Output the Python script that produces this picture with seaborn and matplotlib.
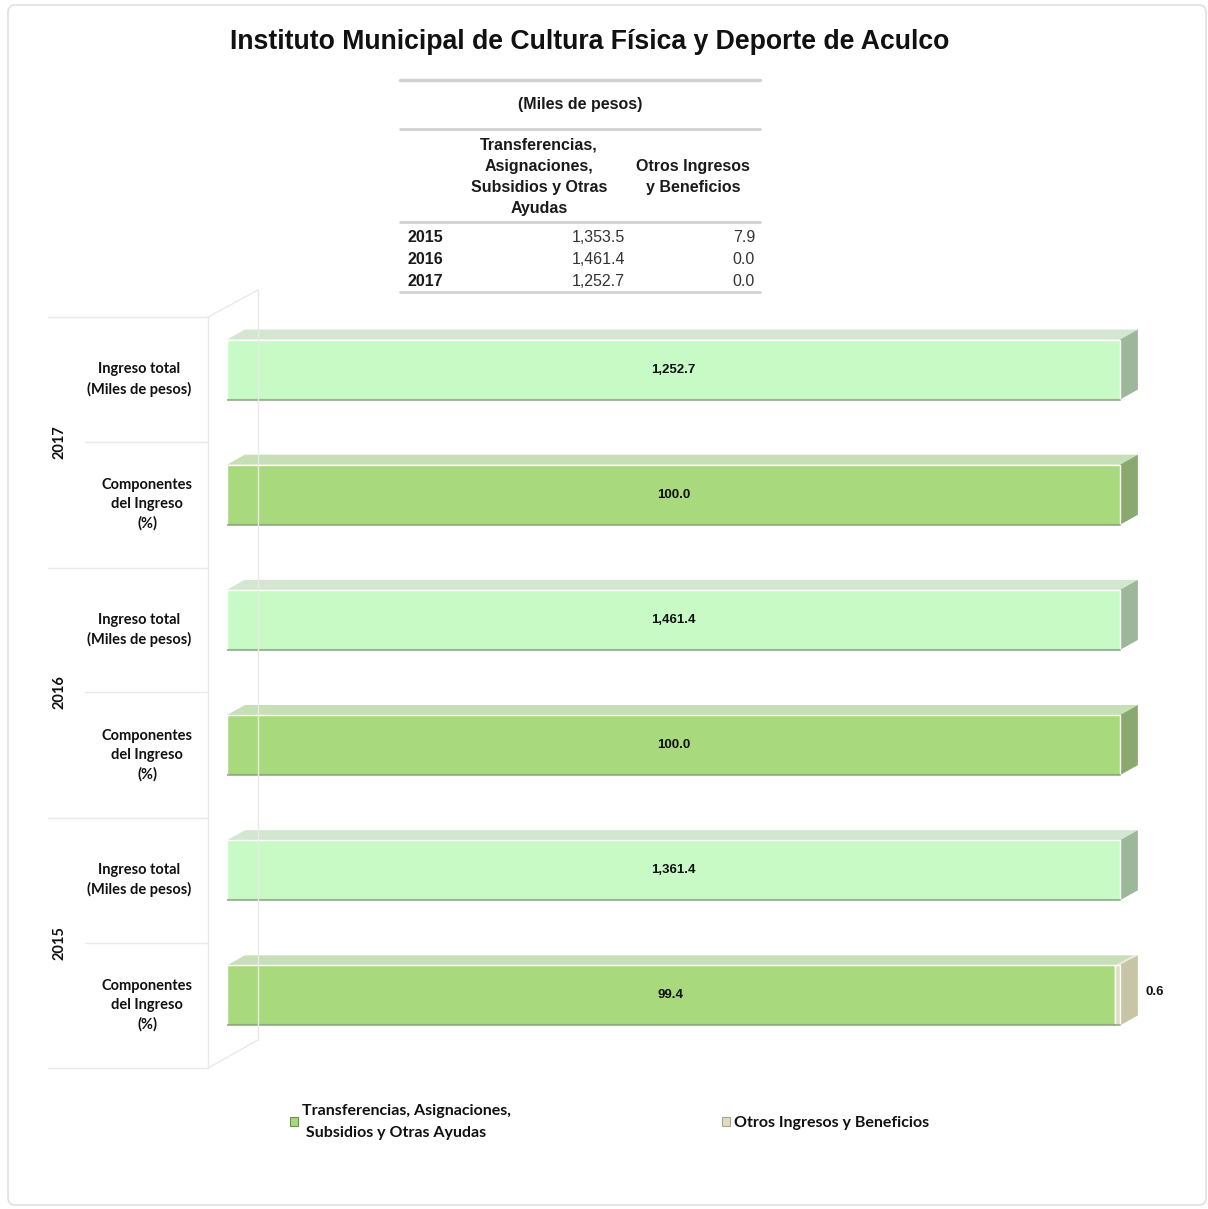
import pandas as pd
import matplotlib
matplotlib.use('Agg')
import matplotlib.pyplot as plt
from matplotlib.patches import Polygon, Patch, FancyBboxPatch
from matplotlib.lines import Line2D
from matplotlib.transforms import blended_transform_factory
import seaborn as sns

sns.set_style('white')
plt.rcParams['font.family'] = ['Liberation Sans', 'DejaVu Sans']

# ---------------------------------------------------------------
# datos
# ---------------------------------------------------------------
anios = ['2015', '2016', '2017']
transferencias = [1353.5, 1461.4, 1252.7]
otros = [7.9, 0.0, 0.0]
ingreso_total = [1361.4, 1461.4, 1252.7]
pct_transf = [99.4, 100.0, 100.0]
pct_otros = [0.6, 0.0, 0.0]

titulo = 'Instituto Municipal de Cultura Física y Deporte de Aculco'
serie_transf = 'Transferencias, Asignaciones,\n Subsidios y Otras Ayudas'
serie_otros = 'Otros Ingresos y Beneficios'

# colores (frente, arriba, lado)
c_total = ('#c8fac6', '#d3e6cf', '#9db79a')
c_transf = ('#a8d97c', '#c6dfb6', '#8aa96f')
c_otros = ('#e2ddc2', '#ecead8', '#c8c4a6')

# orden de filas de arriba hacia abajo
orden = []
for a in anios[::-1]:
    orden += [a + ' ingreso', a + ' comp']

df_ing = pd.DataFrame({
    'fila': [a + ' ingreso' for a in anios],
    'largo': [v / v * 100 for v in ingreso_total],
    'etiqueta': [f'{v:,.1f}' for v in ingreso_total],
})
df_comp = pd.DataFrame({
    'fila': [a + ' comp' for a in anios],
    'transf': pct_transf,
    'acum': [t + o for t, o in zip(pct_transf, pct_otros)],
    'otros': pct_otros,
})

# ---------------------------------------------------------------
# figura
# ---------------------------------------------------------------
fig = plt.figure(figsize=(12.08, 12.09), dpi=100)
W, H = 1208, 1209


def fx(px):
    return px / W


def fy(py):
    return 1 - py / H


ax = fig.add_axes([fx(227), fy(1058), fx(1160) - fx(227), fy(307) - fy(1058)])

n0 = len(ax.patches)
sns.barplot(data=df_ing, x='largo', y='fila', order=orden, orient='h', color=c_total[0],
            saturation=1, width=0.48, errorbar=None, ax=ax, zorder=3)
bars_ing = ax.patches[n0:]
n0 = len(ax.patches)
sns.barplot(data=df_comp, x='acum', y='fila', order=orden, orient='h', color=c_otros[0],
            saturation=1, width=0.48, errorbar=None, ax=ax, zorder=1)
bars_otros = ax.patches[n0:]
n0 = len(ax.patches)
sns.barplot(data=df_comp, x='transf', y='fila', order=orden, orient='h', color=c_transf[0],
            saturation=1, width=0.48, errorbar=None, ax=ax, zorder=3)
bars_transf = ax.patches[n0:]

ax.set_xlim(0, 933 / 893 * 100)
ax.set_ylim(5.5, -0.5)
ax.axis('off')

# efecto 3D
dx, dy = 2.0, -0.08


def caras(p, cols, z, x0=None):
    w = p.get_width()
    y = p.get_y()
    h = p.get_height()
    if x0 is None:
        x0 = p.get_x()
    x1 = p.get_x() + w
    if x1 - x0 <= 0:
        return
    top = Polygon([(x0, y), (x1, y), (x1 + dx, y + dy), (x0 + dx, y + dy)],
                  closed=True, facecolor=cols[1], edgecolor='none', zorder=z)
    side = Polygon([(x1, y), (x1 + dx, y + dy), (x1 + dx, y + h + dy), (x1, y + h)],
                   closed=True, facecolor=cols[2], edgecolor='none', zorder=z)
    ax.add_patch(top)
    ax.add_patch(side)
    # sombra inferior
    ax.plot([x0, x1], [y + h, y + h], color='#6f8a68', lw=1.5, alpha=0.6, zorder=z + 1.5)


for p in bars_ing:
    caras(p, c_total, 2)

# otros: el segmento visible va de transf a acum
comp_por_fila = dict(zip(df_comp['fila'], zip(df_comp['transf'], df_comp['otros'])))
comp_filas = [f for f in orden if f.endswith('comp')]
for p, f in zip(bars_otros, comp_filas):
    t, o = comp_por_fila[f]
    if o > 0:
        caras(p, c_otros, 3.5, x0=t)
        p.set_zorder(4)
        p.set_x(t)
        p.set_width(o)
for p, f in zip(bars_transf, comp_filas):
    caras(p, c_transf, 2)

# etiquetas de valores
lbl_font = dict(family=['Liberation Sans', 'DejaVu Sans'], fontsize=9.5,
                fontweight='bold', color='#111111', va='center', ha='center', zorder=10)
ing_por_fila = dict(zip(df_ing['fila'], df_ing['etiqueta']))
for p, f in zip(bars_ing, [f for f in orden if f.endswith('ingreso')]):
    ax.text(p.get_width() / 2, p.get_y() + p.get_height() / 2, ing_por_fila[f], **lbl_font)
for p, f in zip(bars_transf, comp_filas):
    t, o = comp_por_fila[f]
    ax.text(t / 2, p.get_y() + p.get_height() / 2, f'{t:.1f}', **lbl_font)
    if o > 0:
        d = dict(lbl_font)
        d['ha'] = 'left'
        ax.text(t + o + dx + 0.8, p.get_y() + p.get_height() / 2 - 0.03, f'{o:.1f}', **d)

# etiquetas de categoria (eje izquierdo)
trans = blended_transform_factory(fig.transFigure, ax.transData)
cat_font = dict(family=['Lato', 'DejaVu Sans'], fontsize=10.5, fontweight='bold',
                color='#111111', ha='center', va='center', linespacing=1.45)
off = 10 / 125.2
for i, f in enumerate(orden):
    if f.endswith('ingreso'):
        ax.text(fx(139), i + off, 'Ingreso total\n(Miles de pesos)', transform=trans, **cat_font)
    else:
        ax.text(fx(147), i + off, 'Componentes\ndel Ingreso\n(%)', transform=trans, **cat_font)
for k, a in enumerate(anios[::-1]):
    ax.text(fx(60), 2 * k + 0.5 + off, a, transform=trans, rotation=90,
            family=['Lato', 'DejaVu Sans'], fontsize=10.5, fontweight='bold',
            color='#111111', ha='center', va='center')

# lineas de la pared 3D
lc = '#e9e9e9'
for py in [317, 568, 818, 1068]:
    fig.add_artist(Line2D([fx(48), fx(208)], [fy(py), fy(py)], color=lc, lw=1))
for py in [442, 692, 943]:
    fig.add_artist(Line2D([fx(85), fx(208)], [fy(py), fy(py)], color=lc, lw=1))
fig.add_artist(Line2D([fx(208), fx(208)], [fy(317), fy(1068)], color=lc, lw=1))
fig.add_artist(Line2D([fx(258), fx(258)], [fy(290), fy(1040)], color=lc, lw=1))
fig.add_artist(Line2D([fx(208), fx(258)], [fy(317), fy(290)], color=lc, lw=1))
fig.add_artist(Line2D([fx(208), fx(258)], [fy(1068), fy(1040)], color=lc, lw=1))

# titulo
fig.text(fx(590), fy(42), titulo, ha='center', va='center', fontsize=19.2, fontweight='bold',
         color='#111111')

# tabla
tc = '#d2d2d2'
for py, lw in [(80, 2.5), (129, 2), (222, 2), (292, 2)]:
    fig.add_artist(Line2D([fx(400), fx(760)], [fy(py), fy(py)], color=tc, lw=lw))
fig.text(fx(580), fy(104), '(Miles de pesos)', ha='center', va='center', fontsize=11.5,
         fontweight='bold', color='#1a1a1a')
fig.text(fx(539), fy(177), 'Transferencias,\nAsignaciones,\nSubsidios y Otras\nAyudas',
         ha='center', va='center', fontsize=11.5, fontweight='bold', color='#1a1a1a',
         linespacing=1.5)
fig.text(fx(693), fy(177), 'Otros Ingresos\ny Beneficios', ha='center', va='center',
         fontsize=11.5, fontweight='bold', color='#1a1a1a', linespacing=1.5)
for py, a, t, o in zip([237, 259, 281], anios, transferencias, otros):
    fig.text(fx(407), fy(py), a, ha='left', va='center', fontsize=11.5, fontweight='bold',
             color='#1a1a1a')
    fig.text(fx(625), fy(py), f'{t:,.1f}', ha='right', va='center', fontsize=11.5,
             color='#333333')
    fig.text(fx(755), fy(py), f'{o:,.1f}', ha='right', va='center', fontsize=11.5,
             color='#333333')

# leyenda
handles = [Patch(facecolor=c_transf[0], edgecolor='#6f8f55', lw=0.8),
           Patch(facecolor=c_otros[0], edgecolor='#a9a58a', lw=0.8)]
leg = fig.legend(handles, [serie_transf, serie_otros], loc='upper left',
                 bbox_to_anchor=(fx(290), fy(1104)), ncol=2, frameon=False,
                 handlelength=0.5, handleheight=0.5, handletextpad=0.25,
                 columnspacing=13.2, borderpad=0, borderaxespad=0,
                 prop={'family': ['Lato', 'DejaVu Sans'], 'weight': 'bold', 'size': 11.5})
for t in leg.get_texts():
    t.set_color('#111111')
    t.set_linespacing(1.7)

# marco exterior
fig.add_artist(FancyBboxPatch((fx(8), fy(1205)), fx(1198), fy(5) - fy(1205),
                              boxstyle='round,pad=0,rounding_size=0.006',
                              transform=fig.transFigure, facecolor='none',
                              edgecolor='#e0e0e0', lw=1.2))

fig.savefig('out.png', dpi=100)
